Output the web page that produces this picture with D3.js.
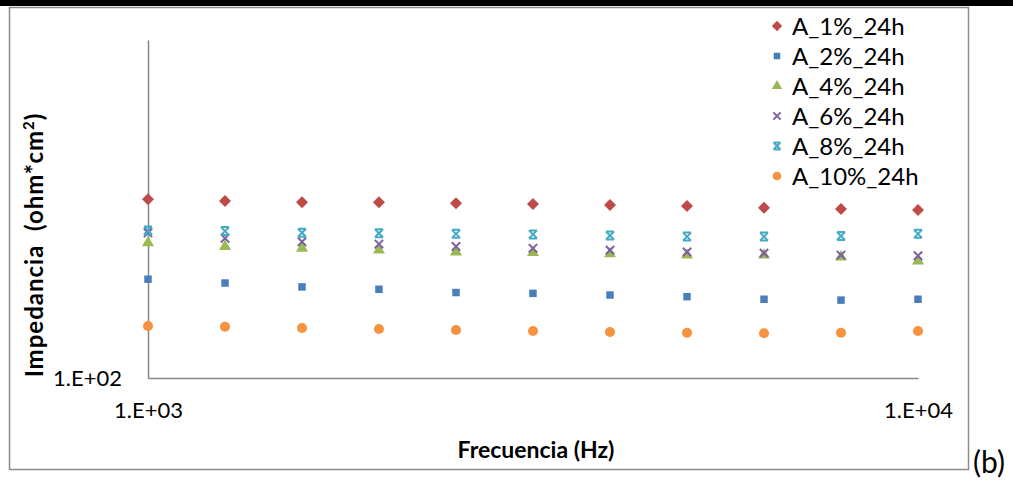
<!DOCTYPE html>
<html>
<head>
<meta charset="utf-8">
<script src="https://cdn.jsdelivr.net/npm/d3@7"></script>
<style>
  body { margin: 0; background: #fff; }
  svg { display: block; }
</style>
</head>
<body>
<div class="chart"></div>
<script>
// Paramètres de visualisation
const width = 1013;
const height = 480;
const margin = { top: 40, right: 95, bottom: 102, left: 148 };

// Données
const frecuencias = [1000, 1259, 1585, 1995, 2512, 3162, 3981, 5012, 6310, 7943, 10000];
const serieNames = ["A_1%_24h", "A_2%_24h", "A_4%_24h", "A_6%_24h", "A_8%_24h", "A_10%_24h"];
const a1 = [338, 334, 331, 331, 329, 327, 325, 323, 319, 316, 314];
const a2 = [196, 191, 186, 183, 179, 178, 176, 174, 171, 170, 171];
const a4 = [251, 245, 242, 239, 236, 235, 233, 231, 231, 228, 222];
const a6 = [269, 259, 253, 249, 245, 242, 239, 236, 234, 231, 230];
const a8 = [273, 272, 269, 268, 267, 266, 264, 262, 262, 263, 267];
const a10 = [142.5, 141.8, 140.6, 139.6, 138.7, 137.7, 136.8, 136.1, 135.6, 136.1, 137.7];
const xTicks = [1000, 10000];
const yTicks = [100];

const colors = ["#BE4B48", "#4A7EBB", "#98B954", "#7D60A0", "#46AAC5", "#F69240"];

// Symboles type Excel
const symX = {
    draw(ctx, size) {
        const r = Math.sqrt(size) / 2;
        ctx.moveTo(-r, -r); ctx.lineTo(r, r);
        ctx.moveTo(r, -r); ctx.lineTo(-r, r);
    }
};
const symStar = {
    draw(ctx, size) {
        const r = Math.sqrt(size) / 2;
        ctx.moveTo(-r, -r); ctx.lineTo(r, r);
        ctx.moveTo(r, -r); ctx.lineTo(-r, r);
        ctx.moveTo(-r, -r); ctx.lineTo(r, -r);
        ctx.moveTo(-r, r); ctx.lineTo(r, r);
    }
};
const markers = [
    { type: d3.symbolSquare, size: 72, rotate: 45, stroke: false },
    { type: d3.symbolSquare, size: 56, rotate: 0, stroke: false },
    { type: d3.symbolTriangle, size: 62, rotate: 0, stroke: false },
    { type: symX, size: 70, rotate: 0, stroke: true },
    { type: symStar, size: 64, rotate: 0, stroke: true },
    { type: d3.symbolCircle, size: 80, rotate: 0, stroke: false }
];

const series = [a1, a2, a4, a6, a8, a10].map((vals, i) => ({
    name: serieNames[i],
    color: colors[i],
    marker: markers[i],
    values: vals.map((v, j) => ({ f: frecuencias[j], z: v }))
}));

const font = "Lato, 'Open Sans', sans-serif";
const expFormat = d => "1.E+0" + Math.round(Math.log10(d));

const svg = d3.select(".chart")
    .append("svg")
    .attr("width", width)
    .attr("height", height);

// Bande noire en haut
svg.append("rect")
    .attr("x", 0).attr("y", 0)
    .attr("width", width).attr("height", 6)
    .attr("fill", "#000");

// Cadre du graphique
svg.append("rect")
    .attr("x", 9.5).attr("y", 7.5)
    .attr("width", 959).attr("height", 462)
    .attr("fill", "#fff")
    .attr("stroke", "#8c8c8c")
    .attr("stroke-width", 1.5);

// Echelles log
const x = d3.scaleLog()
    .domain([1000, 10000])
    .range([margin.left, width - margin.right]);

const y = d3.scaleLog()
    .domain([100, 1000])
    .range([height - margin.bottom, margin.top]);

// Axe vertical
const yAxis = svg.append("g")
    .attr("transform", `translate(${margin.left}, 0)`)
    .call(d3.axisLeft(y).tickValues(yTicks).tickSize(0).tickPadding(26).tickFormat(expFormat));
yAxis.select(".domain").attr("stroke", "#868686").attr("stroke-width", 1.5);
yAxis.selectAll("text")
    .attr("font-family", font).attr("font-size", 22).attr("fill", "#000");

// Axe horizontal
const xAxis = svg.append("g")
    .attr("transform", `translate(0, ${height - margin.bottom})`)
    .call(d3.axisBottom(x).tickValues(xTicks).tickSize(0).tickPadding(24).tickFormat(expFormat));
xAxis.select(".domain").attr("stroke", "#868686").attr("stroke-width", 1.5);
xAxis.selectAll("text")
    .attr("font-family", font).attr("font-size", 22).attr("fill", "#000");

// Points
series.forEach(s => {
    const sym = d3.symbol().type(s.marker.type).size(s.marker.size);
    svg.append("g")
        .selectAll("path")
        .data(s.values)
        .join("path")
        .attr("d", sym)
        .attr("transform", d => `translate(${x(d.f)}, ${y(d.z)}) rotate(${s.marker.rotate})`)
        .attr("fill", s.marker.stroke ? "none" : s.color)
        .attr("stroke", s.marker.stroke ? s.color : "none")
        .attr("stroke-width", 2);
});

// Titres des axes
svg.append("text")
    .attr("x", 536).attr("y", 458)
    .attr("text-anchor", "middle")
    .attr("font-family", font).attr("font-size", 23).attr("font-weight", "bold")
    .text("Frecuencia (Hz)");

const yTitle = svg.append("text")
    .attr("transform", "translate(43, 245) rotate(-90)")
    .attr("text-anchor", "middle")
    .attr("font-family", font).attr("font-size", 24).attr("font-weight", "bold")
    .attr("letter-spacing", 1)
    .attr("xml:space", "preserve");
yTitle.append("tspan").text("Impedancia  (ohm*cm");
yTitle.append("tspan").attr("dy", -9).attr("font-size", 15).text("2");
yTitle.append("tspan").attr("dy", 9).text(")");

// Légende
const legend = svg.append("g")
    .selectAll("g")
    .data(series)
    .join("g")
    .attr("transform", (d, i) => `translate(777, ${26 + i * 30})`);

legend.append("path")
    .attr("d", d => d3.symbol().type(d.marker.type).size(d.marker.size * 0.75)())
    .attr("transform", d => `rotate(${d.marker.rotate})`)
    .attr("fill", d => d.marker.stroke ? "none" : d.color)
    .attr("stroke", d => d.marker.stroke ? d.color : "none")
    .attr("stroke-width", 2);

legend.append("text")
    .attr("x", 15)
    .attr("dy", "0.36em")
    .attr("font-family", font).attr("font-size", 24)
    .text(d => d.name);

// Etiquette (b)
svg.append("text")
    .attr("x", 973).attr("y", 473)
    .attr("font-family", font).attr("font-size", 30)
    .text("(b)");
</script>
</body>
</html>
